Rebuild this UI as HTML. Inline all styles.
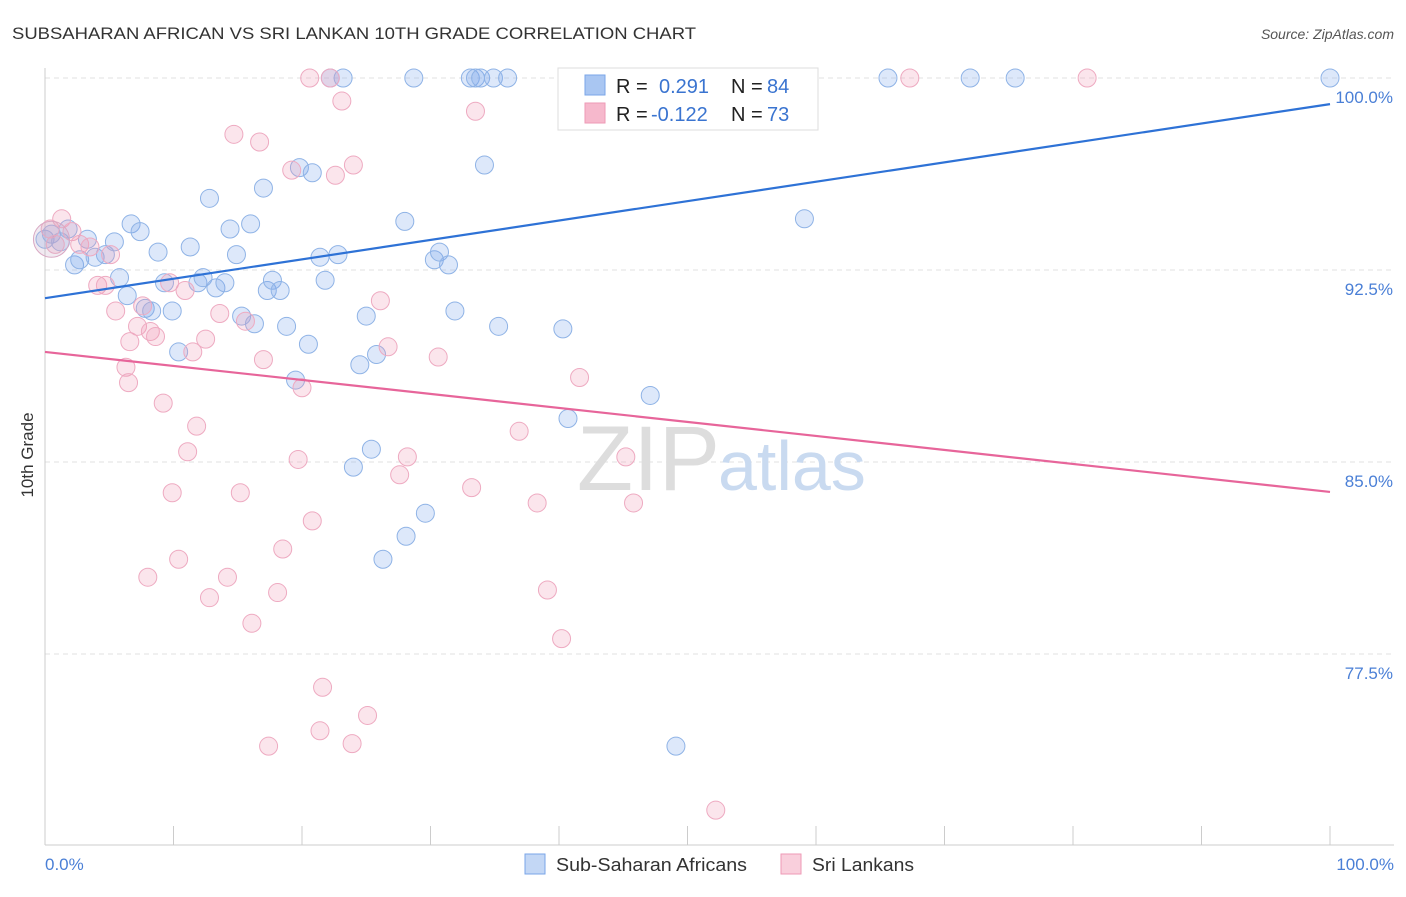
<!DOCTYPE html>
<html><head><meta charset="utf-8"><style>
body{margin:0;background:#fff;font-family:"Liberation Sans",sans-serif;}
svg text{font-family:"Liberation Sans",sans-serif;}
</style></head><body>
<svg id="chart" width="1406" height="892">
<text x="12" y="39" font-size="17" fill="#333" textLength="684" lengthAdjust="spacingAndGlyphs">SUBSAHARAN AFRICAN VS SRI LANKAN 10TH GRADE CORRELATION CHART</text>
<text x="1394" y="39" font-size="14" fill="#555" text-anchor="end" font-style="italic">Source: ZipAtlas.com</text>
<g id="grid"></g>
<text x="720" y="490" font-size="92" fill="#ddd" text-anchor="end" font-family="Liberation Serif">ZIP</text>
<text x="718" y="490" font-size="70" fill="#c9daf0">atlas</text>
<g id="points"></g>
<g id="lines"></g>
<text x="33" y="455" font-size="17" fill="#333" text-anchor="middle" transform="rotate(-90 33 455)">10th Grade</text>
<text x="45" y="870" font-size="17" fill="#4a7fd6">0.0%</text>
<text x="1394" y="870" font-size="17" fill="#4a7fd6" text-anchor="end">100.0%</text>
<g>
<rect x="558" y="68" width="260" height="62" fill="#fff" stroke="#ddd"/>
<rect x="585" y="75" width="20" height="20" fill="#a9c6f2" stroke="#7aa6e8"/>
<rect x="585" y="103" width="20" height="20" fill="#f6b8cc" stroke="#ee9ab6"/>
<text x="616" y="93" font-size="20" fill="#222">R =</text>
<text x="659" y="93" font-size="20" fill="#3a74d0">0.291</text>
<text x="731" y="93" font-size="20" fill="#222">N =</text>
<text x="767" y="93" font-size="20" fill="#3a74d0">84</text>
<text x="616" y="121" font-size="20" fill="#222">R =</text>
<text x="651" y="121" font-size="20" fill="#3a74d0">-0.122</text>
<text x="731" y="121" font-size="20" fill="#222">N =</text>
<text x="767" y="121" font-size="20" fill="#3a74d0">73</text>
</g>
<g>
<rect x="525" y="854" width="20" height="20" fill="#c3d7f5" stroke="#7aa6e8"/>
<text x="556" y="871" font-size="18" fill="#333" textLength="191" lengthAdjust="spacingAndGlyphs">Sub-Saharan Africans</text>
<rect x="781" y="854" width="20" height="20" fill="#f9cfdc" stroke="#ee9ab6"/>
<text x="812" y="871" font-size="18" fill="#333" textLength="102" lengthAdjust="spacingAndGlyphs">Sri Lankans</text>
</g>
</svg>
<script>
const yTicks=[100,92.5,85,77.5];
const yTickLabels=["100.0%","92.5%","85.0%","77.5%"];
const xTicks=[0,10,20,30,40,50,60,70,80,90,100];
const blueX=[0,0.5,1.2,1.8,2.3,2.7,3.3,3.9,4.7,5.4,5.8,6.4,6.7,7.4,7.8,8.3,8.8,9.3,9.9,10.4,11.3,11.9,12.3,12.8,13.3,14.0,14.4,14.9,15.3,16.0,16.3,17.0,17.3,17.7,18.3,18.8,19.8,19.5,20.5,20.8,21.4,21.8,22.2,22.8,23.2,24.0,24.5,25.0,25.4,25.8,26.3,28.1,28.0,28.7,29.6,30.3,30.7,31.4,31.9,33.1,33.5,33.9,34.2,34.9,35.3,36.0,40.3,40.7,41.6,47.1,49.1,52.4,55.5,59.1,65.6,72.0,75.5,100];
const blueY=[93.7,93.9,93.6,94.1,92.7,92.9,93.7,93.0,93.1,93.6,92.2,91.5,94.3,94.0,91.0,90.9,93.2,92.0,90.9,89.3,93.4,92.0,92.2,95.3,91.8,92.0,94.1,93.1,90.7,94.3,90.4,95.7,91.7,92.1,91.7,90.3,96.5,88.2,89.6,96.3,93.0,92.1,100,93.1,100,84.8,88.8,90.7,85.5,89.2,81.2,82.1,94.4,100,83.0,92.9,93.2,92.7,90.9,100,100,100,96.6,100,90.3,100,90.2,86.7,99.1,87.6,73.9,100,99.1,94.5,100,100,100,100];
const pinkX=[0.4,0.8,1.3,2.1,2.7,3.5,4.1,4.7,5.1,5.5,6.3,6.5,6.6,7.2,7.6,8.2,8.6,9.2,9.7,9.9,8.0,10.4,10.9,11.1,11.5,11.8,12.5,12.8,13.6,14.2,14.7,15.2,15.6,16.1,16.7,17.0,17.4,18.1,18.5,19.2,19.7,20.0,20.6,20.8,21.4,21.6,22.2,22.6,23.1,23.9,24.0,25.1,26.1,26.7,27.6,28.2,30.6,33.2,33.5,36.9,38.3,39.1,40.2,41.6,43.0,45.2,45.8,52.2,67.3,81.1];
const pinkY=[94.1,93.5,94.5,94.0,93.5,93.4,91.9,91.9,93.1,90.9,88.7,88.1,89.7,90.3,91.1,90.1,89.9,87.3,92.0,83.8,80.5,81.2,91.7,85.4,89.3,86.4,89.8,79.7,90.8,80.5,97.8,83.8,90.5,78.7,97.5,89.0,73.9,79.9,81.6,96.4,85.1,87.9,100,82.7,74.5,76.2,100,96.2,99.1,74.0,96.6,75.1,91.3,89.5,84.5,85.2,89.1,84.0,98.7,86.2,83.4,80.0,78.1,88.3,98.6,85.2,83.4,71.4,100,100];
const blueTrend=[91.4,98.98];
const pinkTrend=[89.3,83.83];
const NS="http://www.w3.org/2000/svg";
const X0=45,X1=1330,YTOP=78,PXPER=25.6;
function sx(v){return X0+(X1-X0)*v/100;}
function sy(v){return YTOP+(100-v)*PXPER;}
function mk(tag,attrs,parent){const e=document.createElementNS(NS,tag);for(const k in attrs)e.setAttribute(k,attrs[k]);parent.appendChild(e);return e;}
const grid=document.getElementById('grid');
yTicks.forEach((t,i)=>{
  const l=mk('line',{x1:X0,x2:1394,y1:sy(t),y2:sy(t),stroke:'#e2e2e2','stroke-dasharray':'5,4'},grid);
  
  
  const tx=mk('text',{x:1393,y:sy(t)+25,'font-size':17,fill:'#4a7fd6','text-anchor':'end'},grid);
  tx.textContent=yTickLabels[i];
  
  
});
const ax=mk('line',{x1:X0,x2:X0,y1:68,y2:845,stroke:'#ccc'},grid);


const bx=mk('line',{x1:X0,x2:1394,y1:845,y2:845,stroke:'#ccc'},grid);


xTicks.forEach(t=>{
  const l=mk('line',{x1:sx(t),x2:sx(t),y1:826,y2:845,stroke:'#ccc'},grid);
  
  
});
const pts=document.getElementById('points');
function drawSeries(xs,ys,fill,stroke,name){
  xs.forEach((x,i)=>{
    const c=mk('circle',{cx:sx(x),cy:sy(ys[i]),r:9,fill:fill,stroke:stroke,'stroke-width':1},pts);
    
    
  });
}
drawSeries(blueX,blueY,'rgba(120,165,235,0.25)','#8fb3e6','point-subsaharan');
drawSeries(pinkX,pinkY,'rgba(240,150,180,0.25)','#eeaac1','point-srilankan');
const big=mk('circle',{cx:sx(0.5),cy:sy(93.7),r:18,fill:'rgba(200,170,200,0.25)',stroke:'#d9a8c3'},pts);


const lines=document.getElementById('lines');
const bl=mk('line',{x1:sx(0),y1:sy(blueTrend[0]),x2:sx(100),y2:sy(blueTrend[1]),stroke:'#2e72d6','stroke-width':2.2},lines);


const pl=mk('line',{x1:sx(0),y1:sy(pinkTrend[0]),x2:sx(100),y2:sy(pinkTrend[1]),stroke:'#e7659a','stroke-width':2.2},lines);


</script>
</body></html>
